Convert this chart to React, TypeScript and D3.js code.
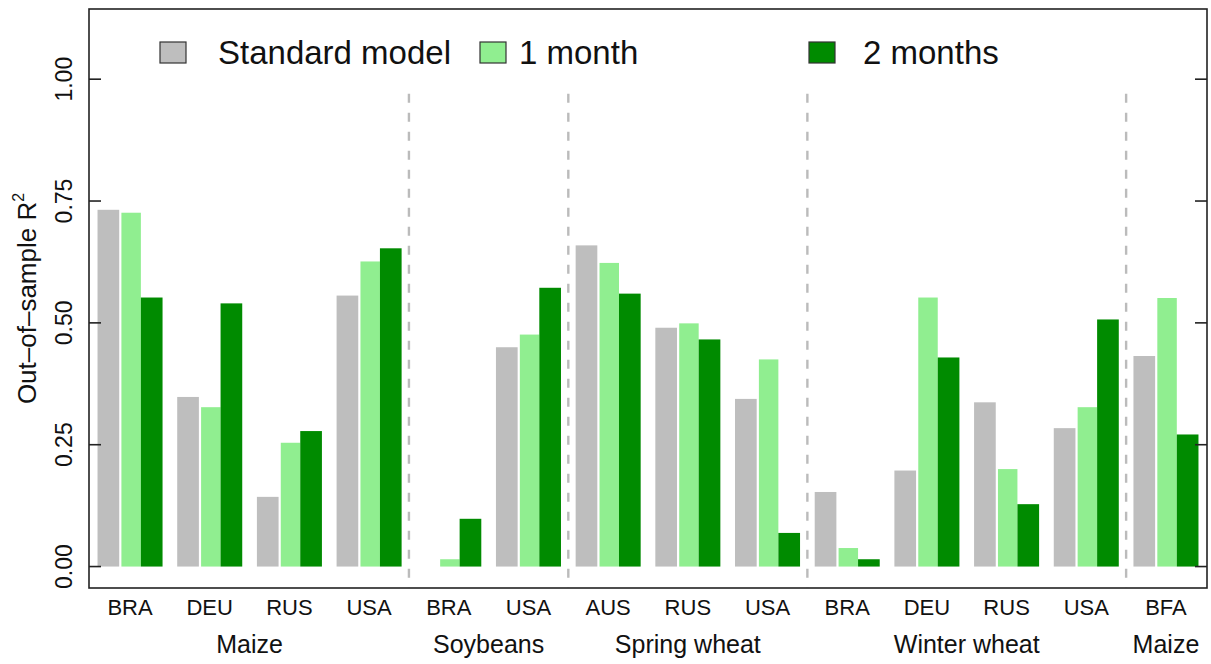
import React from "react";
import * as d3 from "d3";

// Country codes along the x axis, with the crop each one belongs to
const countries = ["BRA", "DEU", "RUS", "USA", "BRA", "USA", "AUS", "RUS", "USA", "BRA", "DEU", "RUS", "USA", "BFA"];
const cropOf = [0, 0, 0, 0, 1, 1, 2, 2, 2, 3, 3, 3, 3, 4];
const crops = ["Maize", "Soybeans", "Spring wheat", "Winter wheat", "Maize"];

// Out-of-sample R² per model
const standardModel = [0.732, 0.348, 0.143, 0.556, 0.0, 0.45, 0.659, 0.49, 0.344, 0.153, 0.197, 0.337, 0.284, 0.432];
const oneMonth = [0.726, 0.327, 0.254, 0.626, 0.015, 0.476, 0.623, 0.499, 0.425, 0.038, 0.552, 0.2, 0.327, 0.551];
const twoMonths = [0.552, 0.54, 0.278, 0.653, 0.098, 0.572, 0.56, 0.466, 0.069, 0.015, 0.429, 0.128, 0.507, 0.271];

const seriesNames = ["Standard model", "1 month", "2 months"];
const yTicks = [0, 0.25, 0.5, 0.75, 1.0];

const W = 1211;
const H = 664;
const box = { left: 89, top: 9, right: 1207, bottom: 588 };
const FONT = "'Liberation Sans', Arial, Helvetica, sans-serif";
const colors = ["#BEBEBE", "#90EE90", "#008B00"];

export default function App() {
  const series = [standardModel, oneMonth, twoMonths];
  const idx = countries.map((_, i) => String(i));

  const x = d3.scaleBand<string>().domain(idx).range([box.left, box.right]).paddingInner(0.184).paddingOuter(0.107);
  const inner = d3.scaleBand<number>().domain([0, 1, 2]).range([0, x.bandwidth()]).padding(0);
  const y = d3.scaleLinear().domain([-0.044, 1.144]).range([box.bottom, box.top]);

  // separators where the crop changes
  const separators: number[] = [];
  for (let i = 1; i < countries.length; i++) {
    if (cropOf[i] !== cropOf[i - 1]) {
      const prevEnd = (x(String(i - 1)) as number) + x.bandwidth();
      const nextStart = x(String(i)) as number;
      separators.push((prevEnd + nextStart) / 2);
    }
  }

  // crop label positions: mean of the group centres
  const cropLabels = crops.map((name, c) => {
    const centers = countries
      .map((_, i) => i)
      .filter((i) => cropOf[i] === c)
      .map((i) => (x(String(i)) as number) + x.bandwidth() / 2);
    return { name, cx: d3.mean(centers) as number };
  });

  const legendItems = [
    { box: 160, text: 218 },
    { box: 480, text: 519 },
    { box: 809, text: 863 },
  ];

  return (
    <svg width={W} height={H} style={{ position: "absolute", left: 0, top: 0, background: "#fff" }} fontFamily={FONT}>
      <rect x={0} y={0} width={W} height={H} fill="#fff" />

      {/* bars */}
      {countries.map((_, i) =>
        series.map((vals, s) => {
          const v = vals[i];
          if (v <= 0) return null;
          const bx = (x(String(i)) as number) + (inner(s) as number);
          const shift = s === 1 ? 2.2 : 0;
          return (
            <rect
              key={`${i}-${s}`}
              x={bx + shift}
              y={y(v)}
              width={inner.bandwidth() - shift}
              height={y(0) - y(v)}
              fill={colors[s]}
            />
          );
        })
      )}

      {/* dashed separators */}
      {separators.map((sx, k) => (
        <line
          key={k}
          x1={sx}
          x2={sx}
          y1={y(0.97)}
          y2={box.bottom}
          stroke="#BBBBBB"
          strokeWidth={2.4}
          strokeDasharray="9,10"
        />
      ))}

      {/* frame */}
      <rect
        x={box.left}
        y={box.top}
        width={box.right - box.left}
        height={box.bottom - box.top}
        fill="none"
        stroke="#222"
        strokeWidth={1.6}
      />

      {/* y ticks, drawn inward on both sides */}
      {yTicks.map((t) => (
        <g key={t}>
          <line x1={box.left} x2={box.left + 12} y1={y(t)} y2={y(t)} stroke="#222" strokeWidth={1.6} />
          <line x1={box.right - 12} x2={box.right} y1={y(t)} y2={y(t)} stroke="#222" strokeWidth={1.6} />
          <text
            transform={`translate(72,${y(t)}) rotate(-90)`}
            textAnchor="middle"
            fontSize={23}
            fill="#111"
          >
            {t.toFixed(2)}
          </text>
        </g>
      ))}

      {/* y axis title */}
      <text
        transform={`translate(36,${(box.top + box.bottom) / 2}) rotate(-90)`}
        textAnchor="middle"
        fontSize={26}
        fill="#111"
      >
        Out–of–sample R
        <tspan dy={-12} fontSize={16}>
          2
        </tspan>
      </text>

      {/* country labels */}
      {countries.map((c, i) => (
        <text
          key={i}
          x={(x(String(i)) as number) + x.bandwidth() / 2}
          y={615}
          textAnchor="middle"
          fontSize={22}
          fill="#111"
        >
          {c}
        </text>
      ))}

      {/* crop labels */}
      {cropLabels.map((l, k) => (
        <text key={k} x={l.cx} y={653} textAnchor="middle" fontSize={25} fill="#111">
          {l.name}
        </text>
      ))}

      {/* legend */}
      {legendItems.map((it, s) => (
        <g key={s}>
          <rect x={it.box} y={42} width={26} height={21} fill={colors[s]} stroke="#333" strokeWidth={1.2} />
          <text x={it.text} y={64} fontSize={33} fill="#111">
            {seriesNames[s]}
          </text>
        </g>
      ))}
    </svg>
  );
}
